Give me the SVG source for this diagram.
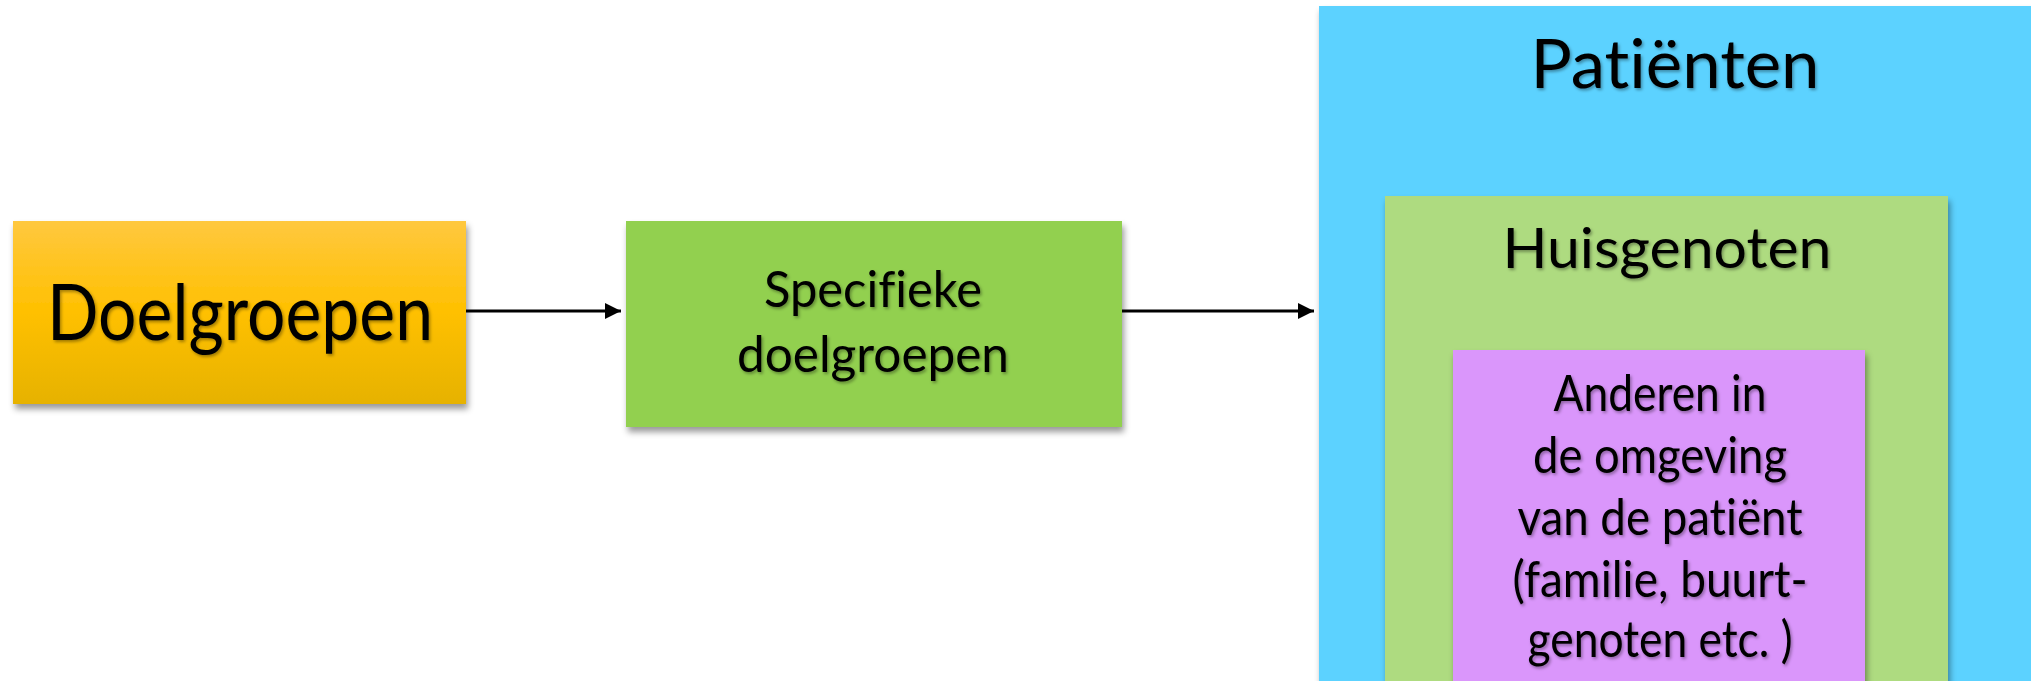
<svg xmlns="http://www.w3.org/2000/svg" width="2031" height="681" viewBox="0 0 2031 681">
<defs>
<linearGradient id="gold" x1="0" y1="0" x2="0" y2="1">
<stop offset="0" stop-color="#FFC83F"/>
<stop offset="0.5" stop-color="#FFC000"/>
<stop offset="1" stop-color="#E6B200"/>
</linearGradient>
<filter id="boxsh" x="-5%" y="-5%" width="112%" height="115%">
<feDropShadow dx="2" dy="5" stdDeviation="3" flood-color="#000" flood-opacity="0.4"/>
</filter>
<filter id="txtsh" x="-5%" y="-20%" width="110%" height="150%">
<feDropShadow dx="1.5" dy="2" stdDeviation="1.5" flood-color="#000" flood-opacity="0.35"/>
</filter>
<marker id="arr" markerWidth="16" markerHeight="16" refX="16" refY="8" orient="auto" markerUnits="userSpaceOnUse" viewBox="0 0 16 16">
<path d="M0,0 L16,8 L0,16 Z" fill="#000"/>
</marker>
</defs>
<style>
text{font-family:Lato,"Open Sans","Liberation Sans",sans-serif;fill:#000;text-anchor:middle;filter:url(#txtsh);font-variant-ligatures:none;font-feature-settings:"liga" 0}
.box{filter:url(#boxsh)}
.conn{stroke:#000;stroke-width:3;fill:none;marker-end:url(#arr)}
</style>
<rect width="2031" height="681" fill="#fff"/>
<g id="connectors">
<line class="conn" x1="466" y1="311" x2="621" y2="311"/>
<line class="conn" x1="1122" y1="311" x2="1314" y2="311"/>
</g>
<g id="doelgroepen">
<rect class="box" x="13" y="221" width="453" height="183" fill="url(#gold)"/>
<text x="240" y="340" font-size="77" textLength="386" lengthAdjust="spacingAndGlyphs">Doelgroepen</text>
</g>
<g id="specifieke">
<rect class="box" x="626" y="221" width="496" height="206" fill="#92D050"/>
<text x="873" y="307" font-size="50" textLength="218" lengthAdjust="spacingAndGlyphs">Specifieke</text>
<text x="873" y="372" font-size="50" textLength="272" lengthAdjust="spacingAndGlyphs">doelgroepen</text>
</g>
<g id="patienten">
<rect class="box" x="1319" y="6" width="720" height="690" fill="#5BD2FF"/>
<text x="1675" y="88" font-size="68" textLength="289" lengthAdjust="spacingAndGlyphs">Patiënten</text>
</g>
<g id="huisgenoten">
<rect class="box" x="1385" y="196" width="563" height="495" fill="#AEDB80"/>
<text x="1667" y="268" font-size="57" textLength="329" lengthAdjust="spacingAndGlyphs">Huisgenoten</text>
</g>
<g id="anderen">
<rect class="box" x="1453" y="350" width="412" height="341" fill="#DA96FB"/>
<text x="1660" y="411" font-size="51" textLength="213" lengthAdjust="spacingAndGlyphs">Anderen in</text>
<text x="1660" y="473" font-size="51" textLength="254" lengthAdjust="spacingAndGlyphs">de omgeving</text>
<text x="1660" y="535" font-size="51" textLength="285" lengthAdjust="spacingAndGlyphs">van de patiënt</text>
<text x="1660" y="597" font-size="51" textLength="295" lengthAdjust="spacingAndGlyphs">(familie, buurt-</text>
<text x="1660" y="657" font-size="51" textLength="265" lengthAdjust="spacingAndGlyphs">genoten etc. )</text>
</g>
</svg>
